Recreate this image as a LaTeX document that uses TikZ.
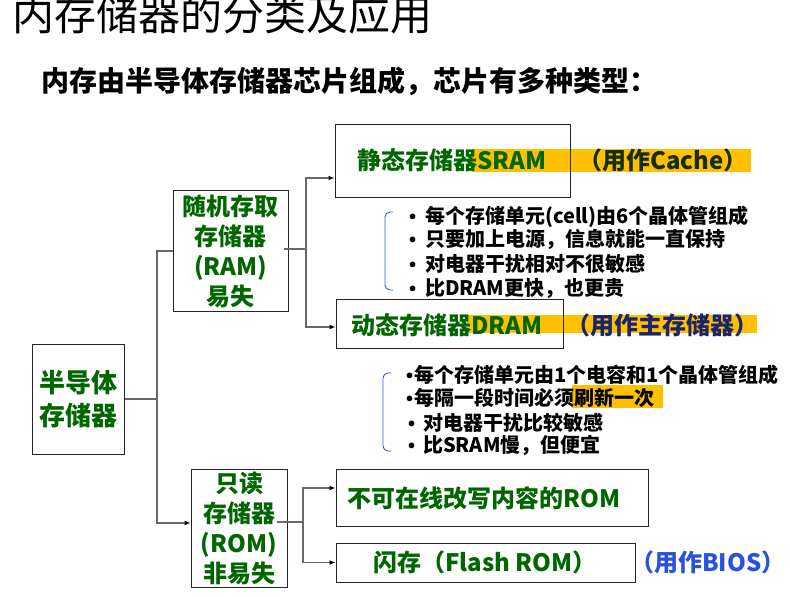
\documentclass[tikz,border=0pt]{standalone}
\usepackage{fontspec}
\setmainfont{Noto Sans CJK SC}
\newfontfamily\bulfont{Liberation Sans}
\newcommand\mybul{{\bulfont\bfseries •}}
\usetikzlibrary{arrows.meta}
\definecolor{tgreen}{RGB}{0,102,0}
\definecolor{hl}{RGB}{255,192,0}
\definecolor{lngray}{RGB}{105,105,105}
\definecolor{bblue}{RGB}{40,80,225}
\definecolor{cachecol}{RGB}{20,45,10}
\definecolor{maincol}{RGB}{25,35,110}
\definecolor{bracecol}{RGB}{50,90,230}
\begin{document}
\begin{tikzpicture}[x=1pt,y=-1pt,
  box/.style={draw=black!85, line width=1pt, inner sep=0pt},
  conn/.style={draw=lngray, line width=1.3pt},
  arr/.style={conn, -{Latex[length=6pt,width=5pt,color=black]}},
  gtext/.style={text=tgreen, font=\fontsize{24pt}{30pt}\selectfont\bfseries, inner sep=0pt, anchor=base west},
  btext/.style={text=black, font=\fontsize{20pt}{24pt}\selectfont\bfseries, inner sep=0pt, anchor=base west},
  hlbox/.style={fill=hl, draw=none},
  brace/.style={draw=bracecol, line width=0.9pt, rounded corners=5pt}
]
\useasboundingbox (0,0) rectangle (790,597);

% title and subtitle
\node[inner sep=0pt, anchor=base west, font=\fontsize{42pt}{46pt}\selectfont] (title) at (12,30) {内存储器的分类及应用};
\node[inner sep=0pt, anchor=base west, font=\fontsize{28pt}{30pt}\selectfont\bfseries] (sub) at (41,91) {内存由半导体存储器芯片组成，芯片有多种类型：};

% highlights
\fill[hlbox] (472,149) rectangle (751,172);
\fill[hlbox] (467,315) rectangle (757,333);
\fill[hlbox] (572,385) rectangle (663,408);

% boxes
\node[box, minimum width=92pt, minimum height=110pt, align=center, text=tgreen,
      font=\fontsize{26pt}{33pt}\selectfont\bfseries] (semi) at (78,399) {半导体\\存储器};
\node[box, minimum width=115pt, minimum height=121pt, align=center, text=tgreen,
      font=\fontsize{24pt}{30pt}\selectfont\bfseries] (ram) at (230.5,251) {随机存取\\存储器\\(RAM)\\易失};
\node[box, minimum width=96pt, minimum height=118pt, align=center, text=tgreen,
      font=\fontsize{24pt}{30pt}\selectfont\bfseries] (rom) at (239,528) {只读\\存储器\\(ROM)\\非易失};
\node[box, minimum width=235pt, minimum height=73pt] (sram) at (452.5,160.5) {};
\node[box, minimum width=227pt, minimum height=49pt] (dram) at (449.5,323.5) {};
\node[box, minimum width=312pt, minimum height=57pt] (rom1) at (492,497.5) {};
\node[box, minimum width=299pt, minimum height=39pt] (flash) at (485.5,562.5) {};

% box texts
\node[gtext] (sramt) at (357,169) {静态存储器SRAM};
\node[gtext, text=cachecol] (cache) at (578,169) {（用作Cache）};
\node[gtext] (dramt) at (351,334) {动态存储器DRAM};
\node[gtext, text=maincol] (mainm) at (566,334) {（用作主存储器）};
\node[gtext] (rom1t) at (347,507) {不可在线改写内容的ROM};
\node[gtext] (flasht) at (373,571) {闪存（Flash ROM）};
\node[gtext, text=bblue] (bios) at (630,571) {（用作BIOS）};

% SRAM bullets
\draw[brace] (393,212) -- (385,212) -- (385,290) -- (393,290);
\node[btext] (s1) at (409,223) {\mybul\hspace{9pt}每个存储单元(cell)由6个晶体管组成};
\node[btext] (s2) at (409,246) {\mybul\hspace{9pt}只要加上电源，信息就能一直保持};
\node[btext] (s3) at (409,271) {\mybul\hspace{9pt}对电器干扰相对不很敏感};
\node[btext] (s4) at (409,295) {\mybul\hspace{9pt}比DRAM更快，也更贵};

% DRAM bullets
\draw[brace] (391,373) -- (383,373) -- (383,451) -- (391,451);
\node[btext] (d1) at (406,382) {\mybul\hspace{1pt}每个存储单元由1个电容和1个晶体管组成};
\node[btext] (d2) at (406,405) {\mybul\hspace{1pt}每隔一段时间必须刷新一次};
\node[btext] (d3) at (408,430) {\mybul\hspace{8pt}对电器干扰比较敏感};
\node[btext] (d4) at (408,452) {\mybul\hspace{8pt}比SRAM慢，但便宜};

% connectors
\coordinate (j1) at (157,399);
\draw[conn] (semi.east) -- (j1);
\draw[conn] (j1) |- (ram.west);
\draw[arr] (j1) |- ([yshift=5pt]rom.west);

\coordinate (j2) at (306,249);
\draw[conn] ([xshift=-5pt,yshift=2pt]ram.east) -- (j2);
\draw[arr] (j2) |- ([yshift=-17.5pt]sram.west);
\draw[arr] (j2) |- ([yshift=-3.5pt]dram.west);

\coordinate (j3) at (303,522);
\draw[conn] ([xshift=-11pt,yshift=6pt]rom.east) -- (j3);
\draw[arr] (j3) |- ([yshift=9.5pt]rom1.west);
\draw[arr] (j3) |- (flash.west);
\end{tikzpicture}
\end{document}
